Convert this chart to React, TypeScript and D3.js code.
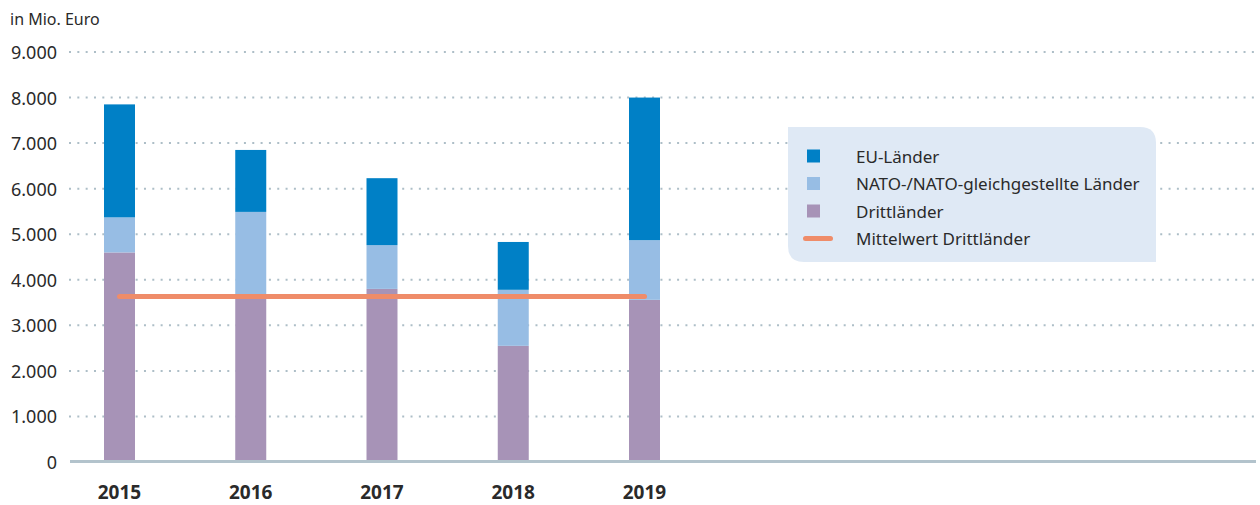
import React from "react";
import * as d3 from "d3";

// values (Mio. Euro)
const years = ["2015", "2016", "2017", "2018", "2019"];
const drittlaender = [4600, 3660, 3800, 2550, 3560];
const nato = [770, 1830, 960, 1230, 1310];
const eu = [2480, 1360, 1470, 1050, 3130];
const yTicks = [0, 1000, 2000, 3000, 4000, 5000, 6000, 7000, 8000, 9000];

const seriesNames = ["Drittländer", "NATO-/NATO-gleichgestellte Länder", "EU-Länder"];
const colors = { eu: "#0080c6", nato: "#97bde4", dritt: "#a793b7", mean: "#ef8c69" };

const de = d3.formatLocale({ decimal: ",", thousands: ".", grouping: [3], currency: ["", " €"] });
const fmt = de.format(",d");

const App = () => {
  const width = 1260;
  const height = 505;
  const font = "'Noto Sans', sans-serif";
  const textColor = "#2a2a2a";

  const y = d3.scaleLinear().domain([0, 9000]).range([462, 52]);
  const x = d3.scalePoint<string>().domain(years).range([119.5, 644.5]);
  const barW = 31;

  const rows = years.map((yr, i) => ({ year: yr, dritt: drittlaender[i], nato: nato[i], eu: eu[i] }));
  const stack = d3.stack<any>().keys(["dritt", "nato", "eu"])(rows);
  const fills = [colors.dritt, colors.nato, colors.eu];

  const mean = d3.mean(drittlaender) as number;
  const meanLine = d3.line<string>().x((d) => x(d) as number).y(() => y(mean));

  // legend box with rounded top-right / bottom-left corners
  const lx = 788, ly = 127, lw = 368, lh = 135, r = 16;
  const legendPath = `M${lx},${ly} H${lx + lw - r} Q${lx + lw},${ly} ${lx + lw},${ly + r} V${ly + lh} H${lx + r} Q${lx},${ly + lh} ${lx},${ly + lh - r} Z`;

  const legendItems = [
    { label: "EU-Länder", color: colors.eu, type: "rect" },
    { label: seriesNames[1], color: colors.nato, type: "rect" },
    { label: seriesNames[0], color: colors.dritt, type: "rect" },
    { label: "Mittelwert Drittländer", color: colors.mean, type: "line" },
  ];

  return (
    <svg width={width} height={height} style={{ display: "block", position: "absolute", left: 0, top: 0 }}>
      <text x={10} y={25} fontFamily={font} fontSize={16} fill={textColor}>
        in Mio. Euro
      </text>

      {/* gridlines */}
      {yTicks.filter((t) => t > 0).map((t) => (
        <line
          key={t}
          x1={69}
          x2={1256}
          y1={y(t)}
          y2={y(t)}
          stroke="#adbec7"
          strokeWidth={2}
          strokeDasharray="2 6.33"
        />
      ))}

      {/* y tick labels */}
      {yTicks.map((t) => (
        <text
          key={t}
          x={57}
          y={y(t)}
          textAnchor="end"
          dominantBaseline="central"
          fontFamily={font}
          fontSize={18}
          fill={textColor}
        >
          {fmt(t)}
        </text>
      ))}

      {/* stacked bars */}
      {stack.map((s, si) =>
        s.map((d, i) => (
          <rect
            key={`${si}-${i}`}
            x={(x(years[i]) as number) - barW / 2}
            y={y(d[1])}
            width={barW}
            height={y(d[0]) - y(d[1])}
            fill={fills[si]}
          />
        ))
      )}

      {/* baseline */}
      <line x1={70} x2={1256} y1={461.5} y2={461.5} stroke="#b3c3cc" strokeWidth={3} />

      {/* mean line */}
      <path d={meanLine(years) as string} stroke={colors.mean} strokeWidth={5} strokeLinecap="round" fill="none" />

      {/* x labels */}
      {years.map((yr) => (
        <text
          key={yr}
          x={x(yr) as number}
          y={499}
          textAnchor="middle"
          fontFamily={font}
          fontWeight="bold"
          fontSize={19}
          fill={textColor}
        >
          {yr}
        </text>
      ))}

      {/* legend */}
      <path d={legendPath} fill="#dfe9f5" />
      {legendItems.map((it, i) => {
        const cy = 156 + i * 27.5;
        return (
          <g key={it.label}>
            {it.type === "rect" ? (
              <rect x={807} y={cy - 6.5} width={13} height={13} fill={it.color} />
            ) : (
              <line x1={805.5} x2={830.5} y1={cy} y2={cy} stroke={it.color} strokeWidth={5} strokeLinecap="round" />
            )}
            <text x={856} y={cy} dominantBaseline="central" fontFamily={font} fontSize={17} fill={textColor}>
              {it.label}
            </text>
          </g>
        );
      })}
    </svg>
  );
};

export default App;
